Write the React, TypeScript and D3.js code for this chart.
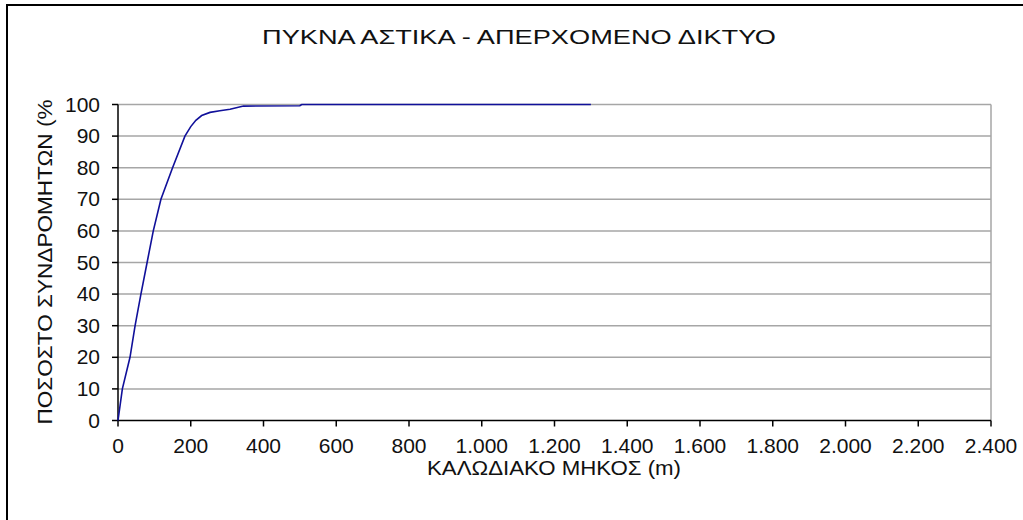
import React from "react";
import * as d3 from "d3";

const TITLE = "ΠΥΚΝΑ ΑΣΤΙΚΑ - ΑΠΕΡΧΟΜΕΝΟ ΔΙΚΤΥΟ";
const X_TITLE = "ΚΑΛΩΔΙΑΚΟ ΜΗΚΟΣ (m)";
const Y_TITLE = "ΠΟΣΟΣΤΟ ΣΥΝΔΡΟΜΗΤΩΝ (%";

const lengths = [0, 12, 33, 47, 63, 80, 97, 118, 150, 184, 200, 214, 230, 253, 280, 308, 345, 500, 505, 1300];
const percents = [0, 10, 20, 30, 40, 50, 60, 70, 80, 90, 93, 95, 96.5, 97.5, 98, 98.5, 99.5, 99.6, 100, 100];

const xTicks = [0, 200, 400, 600, 800, 1000, 1200, 1400, 1600, 1800, 2000, 2200, 2400];
const xTickLabels = ["0", "200", "400", "600", "800", "1.000", "1.200", "1.400", "1.600", "1.800", "2.000", "2.200", "2.400"];
const yTicks = [0, 10, 20, 30, 40, 50, 60, 70, 80, 90, 100];

export default function App() {
  const x = d3.scaleLinear().domain([0, 2400]).range([118, 991]);
  const y = d3.scaleLinear().domain([0, 100]).range([420.5, 104.5]);
  const pts = lengths.map((l, i) => [l, percents[i]] as [number, number]);
  const line = d3.line<[number, number]>().x(d => x(d[0])).y(d => y(d[1]));
  const font = "'Liberation Sans Narrow', 'Liberation Sans', Arial, sans-serif";
  return (
    <svg width={1023} height={520} style={{ position: "absolute", left: 0, top: 0, background: "#fff" }} fontFamily={font} fill="#111">
      <rect x={0} y={0} width={1023} height={520} fill="#fff" />
      <line x1={6} y1={5} x2={1023} y2={5} stroke="#000" strokeWidth={2} />
      <line x1={7} y1={5} x2={7} y2={520} stroke="#000" strokeWidth={2} />
      <text x={519} y={44} fontSize={20} textAnchor="middle" textLength={514} lengthAdjust="spacingAndGlyphs">{TITLE}</text>
      {yTicks.filter(t => t > 0).map(t => (
        <line key={"g" + t} x1={x(0)} x2={x(2400)} y1={y(t)} y2={y(t)} stroke="#a6a6a6" strokeWidth={1.5} />
      ))}
      <line x1={x(2400)} x2={x(2400)} y1={y(100)} y2={y(0)} stroke="#a6a6a6" strokeWidth={1.5} />
      <line x1={x(0)} x2={x(0)} y1={y(100)} y2={y(0)} stroke="#000" strokeWidth={1.5} />
      <line x1={x(0)} x2={x(2400)} y1={y(0)} y2={y(0)} stroke="#000" strokeWidth={1.5} />
      {yTicks.map(t => (
        <g key={"y" + t}>
          <line x1={x(0) - 6} x2={x(0)} y1={y(t)} y2={y(t)} stroke="#000" strokeWidth={1.5} />
          <text x={100} y={y(t) + 7} fontSize={21} textAnchor="end">{t}</text>
        </g>
      ))}
      {xTicks.map((t, i) => (
        <g key={"x" + t}>
          <line x1={x(t)} x2={x(t)} y1={y(0)} y2={y(0) + 6} stroke="#000" strokeWidth={1.5} />
          <text x={x(t)} y={453} fontSize={21} textAnchor="middle">{xTickLabels[i]}</text>
        </g>
      ))}
      <path d={line(pts) || ""} fill="none" stroke="#10109a" strokeWidth={1.6} />
      <text x={554} y={475} fontSize={21} textAnchor="middle" textLength={254} lengthAdjust="spacingAndGlyphs">{X_TITLE}</text>
      <text transform="translate(52,262) rotate(-90)" fontSize={21} textAnchor="middle" textLength={325} lengthAdjust="spacingAndGlyphs">{Y_TITLE}</text>
    </svg>
  );
}
